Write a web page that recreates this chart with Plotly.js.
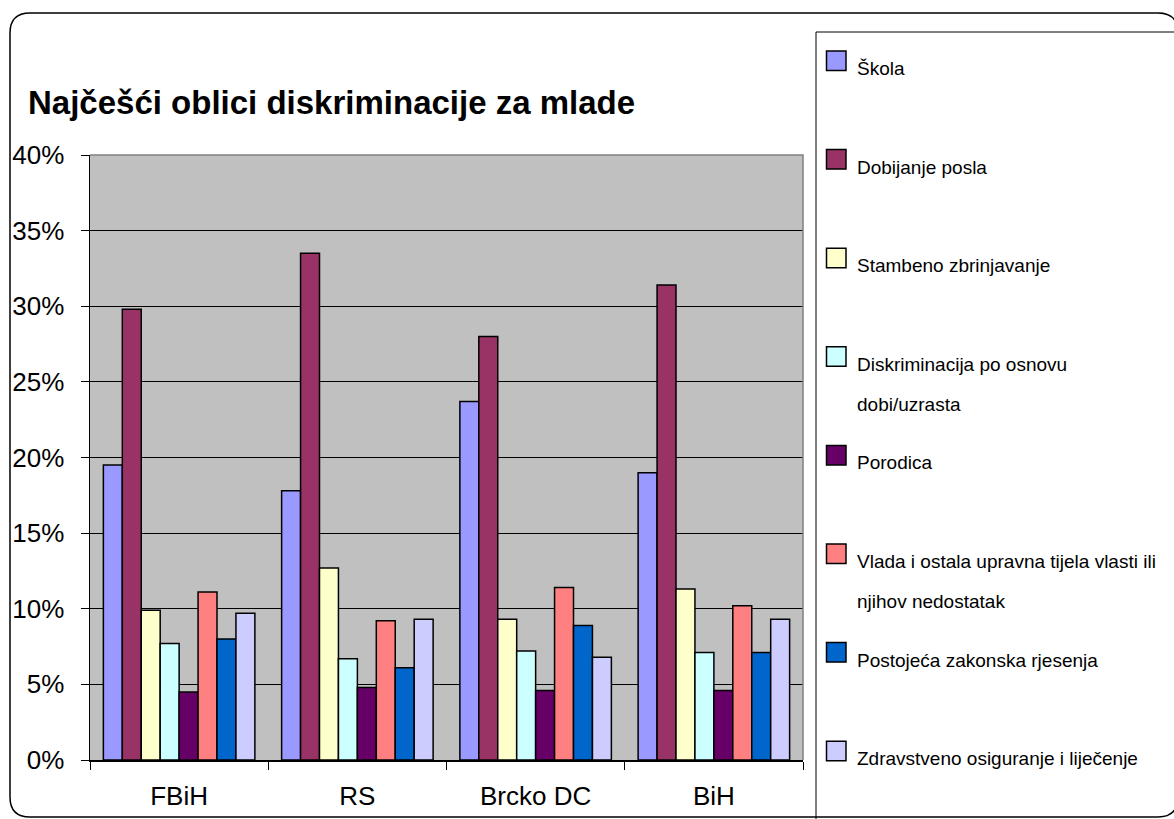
<!DOCTYPE html>
<html>
<head>
<meta charset="utf-8">
<script src="https://cdn.plot.ly/plotly-3.0.1.min.js"></script>
<style>
  html, body { margin: 0; padding: 0; background: #ffffff; }
  #chart { width: 1174px; height: 819px; }
</style>
</head>
<body>
<div id="chart"></div>
<script>
// ---- Data ----
const categories = ["FBiH", "RS", "Brcko DC", "BiH"];
const seriesNames = [
  "Škola",
  "Dobijanje posla",
  "Stambeno zbrinjavanje",
  "Diskriminacija po osnovu dobi/uzrasta",
  "Porodica",
  "Vlada i ostala upravna tijela vlasti ili njihov nedostatak",
  "Postojeća zakonska rjesenja",
  "Zdravstveno osiguranje i liječenje"
];
const legendLines = [
  ["Škola"],
  ["Dobijanje posla"],
  ["Stambeno zbrinjavanje"],
  ["Diskriminacija po osnovu", "dobi/uzrasta"],
  ["Porodica"],
  ["Vlada i ostala upravna tijela vlasti ili", "njihov nedostatak"],
  ["Postojeća zakonska rjesenja"],
  ["Zdravstveno osiguranje i liječenje"]
];
const skola        = [0.195, 0.178, 0.237, 0.190];
const dobijanje    = [0.298, 0.335, 0.280, 0.314];
const stambeno     = [0.099, 0.127, 0.093, 0.113];
const diskrim      = [0.077, 0.067, 0.072, 0.071];
const porodica     = [0.045, 0.048, 0.046, 0.046];
const vlada        = [0.111, 0.092, 0.114, 0.102];
const postojeca    = [0.080, 0.061, 0.089, 0.071];
const zdravstveno  = [0.097, 0.093, 0.068, 0.093];
const seriesValues = [skola, dobijanje, stambeno, diskrim, porodica, vlada, postojeca, zdravstveno];
const yTickVals = [0, 0.05, 0.10, 0.15, 0.20, 0.25, 0.30, 0.35, 0.40];
const titleText = "Najčešći oblici diskriminacije za mlade";

// ---- Styles ----
const colors = ["#9999FF", "#993366", "#FFFFCC", "#CCFFFF", "#660066", "#FF8080", "#0066CC", "#CCCCFF"];
const FONT = "Liberation Sans, Arial, Helvetica, sans-serif";

// plot area in pixels
const PL = 90, PR = 803, PT = 155, PB = 760;
const W = 1174, H = 819;
const X = px => (px - PL) / (PR - PL);
const Y = py => (PB - py) / (PB - PT);

const traces = seriesNames.map((name, i) => ({
  type: "bar",
  name: name,
  x: categories,
  y: seriesValues[i],
  marker: { color: colors[i], line: { color: "#000000", width: 1.5 } },
  hovertemplate: "%{x}<br>" + name + ": %{y:.1%}<extra></extra>"
}));

const shapes = [];
const annotations = [];

// outer rounded frame
const r = 20, fx0 = 10, fy0 = 13, fx1 = 1178, fy1 = 817;
shapes.push({
  type: "path", xref: "paper", yref: "paper", layer: "above",
  path: `M ${X(fx0)},${Y(fy0 + r)} Q ${X(fx0)},${Y(fy0)} ${X(fx0 + r)},${Y(fy0)} ` +
        `L ${X(fx1 - r)},${Y(fy0)} Q ${X(fx1)},${Y(fy0)} ${X(fx1)},${Y(fy0 + r)} ` +
        `L ${X(fx1)},${Y(fy1 - r)} Q ${X(fx1)},${Y(fy1)} ${X(fx1 - r)},${Y(fy1)} ` +
        `L ${X(fx0 + r)},${Y(fy1)} Q ${X(fx0)},${Y(fy1)} ${X(fx0)},${Y(fy1 - r)} Z`,
  line: { color: "#000000", width: 1.5 }
});

// grey top/right plot border
shapes.push({
  type: "path", xref: "paper", yref: "paper", layer: "above",
  path: "M 0,1 L 1,1 L 1,0",
  line: { color: "#808080", width: 1.5 }
});

// legend box
shapes.push({
  type: "rect", xref: "paper", yref: "paper", layer: "above",
  x0: X(816), x1: X(1185), y0: Y(32), y1: Y(830),
  line: { color: "#000000", width: 1 }
});

// legend items
const legendTop0 = 51, legendStep = 98.6, swatch = 19.5;
legendLines.forEach((lines, i) => {
  const top = legendTop0 + i * legendStep;
  shapes.push({
    type: "rect", xref: "paper", yref: "paper", layer: "above",
    x0: X(826.5), x1: X(846), y0: Y(top), y1: Y(top + swatch),
    fillcolor: colors[i], line: { color: "#000000", width: 1.5 }
  });
  lines.forEach((t, k) => {
    const baseline = top + 24 + k * 40;
    annotations.push({
      xref: "paper", yref: "paper", x: X(855), y: Y(baseline - 6.5),
      xanchor: "left", yanchor: "middle", showarrow: false,
      text: t, font: { family: FONT, size: 19, color: "#000000" }
    });
  });
});

const layout = {
  width: W, height: H,
  margin: { l: PL, r: W - PR, t: PT, b: H - PB, pad: 0 },
  paper_bgcolor: "#ffffff",
  plot_bgcolor: "#C0C0C0",
  barmode: "group",
  bargap: 0.15,
  bargroupgap: 0,
  showlegend: false,
  title: {
    text: "<b>" + titleText + "</b>",
    font: { family: FONT, size: 33, color: "#000000" },
    xref: "container", yref: "container",
    x: 28 / W, xanchor: "left",
    y: 1 - 102 / H, yanchor: "middle"
  },
  xaxis: {
    type: "category",
    showgrid: false,
    showline: true, linecolor: "#000000", linewidth: 1.5,
    ticks: "outside", tickson: "boundaries", ticklen: 8, tickcolor: "#000000", tickwidth: 1,
    ticklabelstandoff: 12,
    tickfont: { family: FONT, size: 26, color: "#000000" },
    zeroline: false, fixedrange: true
  },
  yaxis: {
    range: [0, 0.4],
    tickvals: yTickVals,
    tickformat: ".0%",
    showgrid: true, gridcolor: "#000000", gridwidth: 1,
    showline: true, linecolor: "#000000", linewidth: 1.5,
    ticks: "outside", ticklen: 8, tickcolor: "#000000", tickwidth: 1,
    ticklabelstandoff: 11,
    tickfont: { family: FONT, size: 26, color: "#000000" },
    zeroline: false, fixedrange: true
  },
  shapes: shapes,
  annotations: annotations
};

Plotly.newPlot("chart", traces, layout, { displayModeBar: false, staticPlot: true });
</script>
</body>
</html>
